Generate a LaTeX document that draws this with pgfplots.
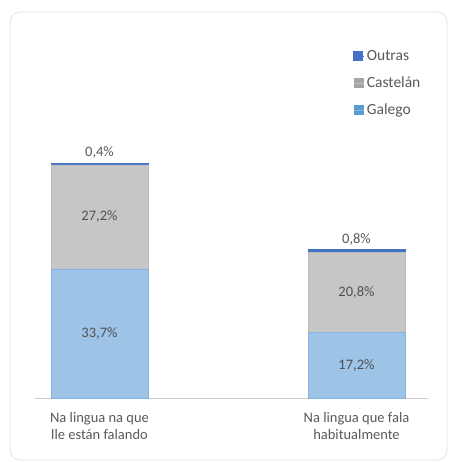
\documentclass[border=0pt]{standalone}
\usepackage{pgfplots}
\usepackage{pgfplotstable}
\pgfplotsset{compat=1.18}
\usepackage{fontspec}
\setmainfont{Carlito}
\definecolor{galego}{HTML}{9DC3E6}
\definecolor{galegoedge}{HTML}{86B3E0}
\definecolor{castelan}{HTML}{C6C6C6}
\definecolor{castelanedge}{HTML}{BBBBBB}
\definecolor{outras}{HTML}{4472C4}
\definecolor{txt}{HTML}{595959}
\definecolor{intxt}{HTML}{505050}
\definecolor{legGal}{HTML}{5B9BD5}
\definecolor{legCas}{HTML}{A5A5A5}
\definecolor{legOut}{HTML}{4472C4}
\pgfplotstableread{
x g c o
0 33.7 27.2 0.4
1 17.2 20.8 0.8
}\data
\begin{document}
\begin{tikzpicture}
\path (0pt,0pt) rectangle (448pt,462pt);
\draw[rounded corners=10pt, color=gray!22, line width=0.8pt] (10pt,2pt) rectangle (447pt,450pt);
\begin{axis}[
  at={(99.5pt,64pt)}, anchor=origin,
  x=257pt, y=3.83pt,
  xmin=-0.251, xmax=1.278, ymin=0, ymax=95,
  ybar stacked, bar width=97pt,
  axis y line=none, axis x line*=bottom,
  x axis line style={-, draw=gray!40, line width=0.8pt},
  xtick=data,
  xticklabels={{Na lingua na que\\lle están falando},{Na lingua que fala\\habitualmente}},
  major tick length=0pt,
  xticklabel style={align=center, text=txt, font=\fontsize{14.5}{17}\selectfont, yshift=-11pt},
  /pgf/number format/assume math mode=true,
  clip=false,
  reverse legend,
  legend cell align=left,
  legend style={at={(0.81,0.962)}, anchor=north west, draw=none, fill=none, inner sep=0pt,
    font=\fontsize{15.5}{18}\selectfont, text=txt, row sep=11pt,
    /tikz/every even column/.append style={column sep=0pt}},
  nodes near coords={\pgfmathprintnumber[fixed,fixed zerofill,precision=1,use comma]{\pgfplotspointmeta}\%},
  every node near coord/.append style={font=\fontsize{14.5}{17}\selectfont},
]
\addplot[fill=galego, draw=galegoedge, line width=0.4pt,
  every node near coord/.append style={text=intxt, anchor=center},
  legend image code/.code={\fill[legGal] (0pt,-4.5pt) rectangle (9pt,4.5pt); \path (0pt,0pt) -- (10.5pt,0pt);}]
  table[x=x, y=g, meta=g] {\data};
\addlegendentry{Galego}
\addplot[fill=castelan, draw=castelanedge, line width=0.4pt,
  every node near coord/.append style={text=intxt, anchor=center},
  legend image code/.code={\fill[legCas] (0pt,-4.5pt) rectangle (9pt,4.5pt); \path (0pt,0pt) -- (10.5pt,0pt);}]
  table[x=x, y=c, meta=c] {\data};
\addlegendentry{Castelán}
\addplot[fill=outras, draw=outras, line width=0.9pt,
  every node near coord/.append style={text=txt, anchor=south, yshift=2pt},
  legend image code/.code={\fill[legOut] (0pt,-4.5pt) rectangle (9pt,4.5pt); \path (0pt,0pt) -- (10.5pt,0pt);}]
  table[x=x, y=o, meta=o] {\data};
\addlegendentry{Outras}
\end{axis}
\end{tikzpicture}
\end{document}
